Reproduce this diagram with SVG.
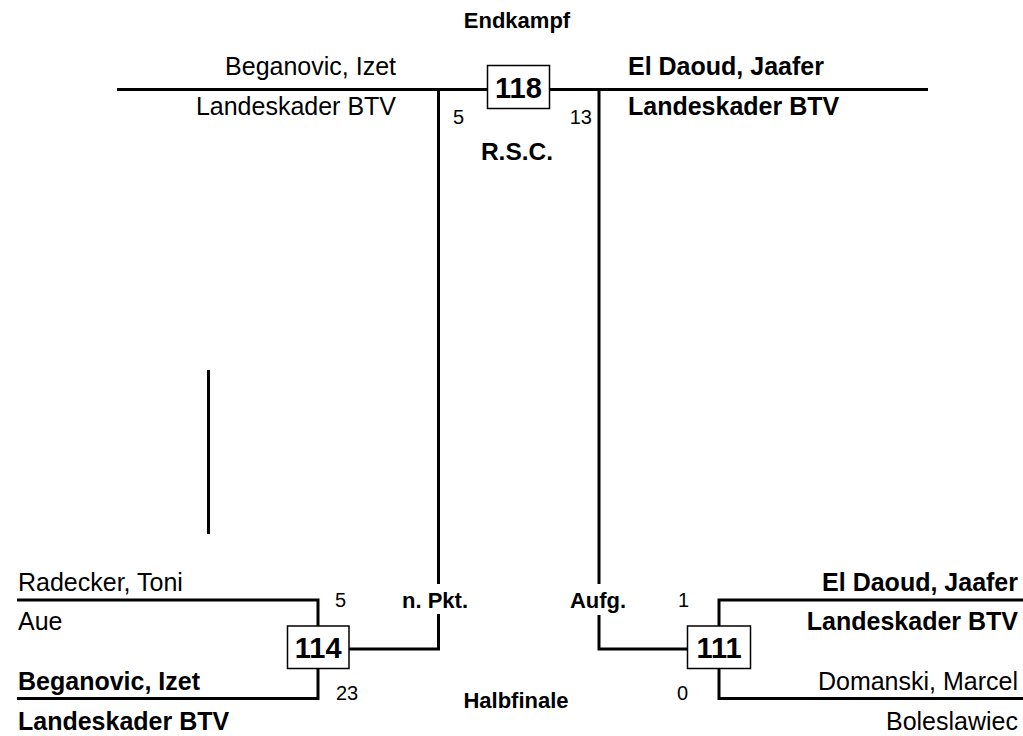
<svg xmlns="http://www.w3.org/2000/svg" width="1023" height="736" viewBox="0 0 1023 736">
<style>
text{font-family:"Liberation Sans",Arial,Helvetica,sans-serif;fill:#000}
.nm{font-size:25px}
.b{font-weight:bold}
.lbl{font-size:22px;font-weight:bold}
.sc{font-size:20px}
.box{fill:#fff;stroke:#000;stroke-width:1.5}
.bn{font-size:29px;font-weight:bold;text-anchor:middle}
.ln{fill:none;stroke:#000;stroke-width:3;stroke-linecap:butt;stroke-linejoin:miter}
.r{text-anchor:end}
.m{text-anchor:middle}
</style>
<rect width="1023" height="736" fill="#fff"/>
<g id="connectors">
<line class="ln" x1="117" y1="89.5" x2="928" y2="89.5"/>
<polyline class="ln" points="349,649 438.5,649 438.5,614"/>
<line class="ln" x1="438.5" y1="584" x2="438.5" y2="89.5"/>
<polyline class="ln" points="687,649 599,649 599,615"/>
<line class="ln" x1="599" y1="584" x2="599" y2="89.5"/>
<polyline class="ln" points="17,600 318,600 318,626"/>
<polyline class="ln" points="17,698.5 318,698.5 318,668"/>
<polyline class="ln" points="1023,600 719,600 719,626"/>
<polyline class="ln" points="1023,698.5 719,698.5 719,668"/>
<line class="ln" x1="208.5" y1="370" x2="208.5" y2="534"/>
</g>
<g id="title-final"><text class="lbl m" x="517" y="27.5">Endkampf</text></g>
<g id="title-semi"><text class="lbl m" x="516" y="707.5">Halbfinale</text></g>
<g id="final-118">
<rect class="box" x="487.5" y="65.5" width="62" height="43"/>
<text class="bn" x="518.5" y="97.5">118</text>
<text class="sc" x="453" y="123.5">5</text>
<text class="sc r" x="592" y="123.5">13</text>
<text class="m b" style="font-size:24.5px" x="517" y="160">R.S.C.</text>
</g>
<g id="final-left">
<text class="nm r" x="396" y="75">Beganovic, Izet</text>
<text class="nm r" x="396" y="115">Landeskader BTV</text>
</g>
<g id="final-right">
<text class="nm b" x="628" y="75">El Daoud, Jaafer</text>
<text class="nm b" x="628" y="115">Landeskader BTV</text>
</g>
<g id="semi-114">
<rect class="box" x="287.5" y="626" width="61.5" height="42.5"/>
<text class="bn" x="318.2" y="657.5">114</text>
<text class="sc" x="335" y="607">5</text>
<text class="sc" x="336" y="700">23</text>
<text class="lbl m" x="435" y="608">n. Pkt.</text>
</g>
<g id="semi-114-top">
<text class="nm" x="18" y="591">Radecker, Toni</text>
<text class="nm" x="18" y="630">Aue</text>
</g>
<g id="semi-114-bottom">
<text class="nm b" x="18" y="690">Beganovic, Izet</text>
<text class="nm b" x="18" y="729.5">Landeskader BTV</text>
</g>
<g id="semi-111">
<rect class="box" x="687.5" y="626" width="63" height="42.5"/>
<text class="bn" x="719" y="657.5">111</text>
<text class="sc" x="678" y="607">1</text>
<text class="sc" x="677" y="700">0</text>
<text class="lbl m" x="598" y="608">Aufg.</text>
</g>
<g id="semi-111-top">
<text class="nm b r" x="1018" y="591">El Daoud, Jaafer</text>
<text class="nm b r" x="1018" y="630">Landeskader BTV</text>
</g>
<g id="semi-111-bottom">
<text class="nm r" x="1018" y="690">Domanski, Marcel</text>
<text class="nm r" x="1018" y="729.5">Boleslawiec</text>
</g>
</svg>
